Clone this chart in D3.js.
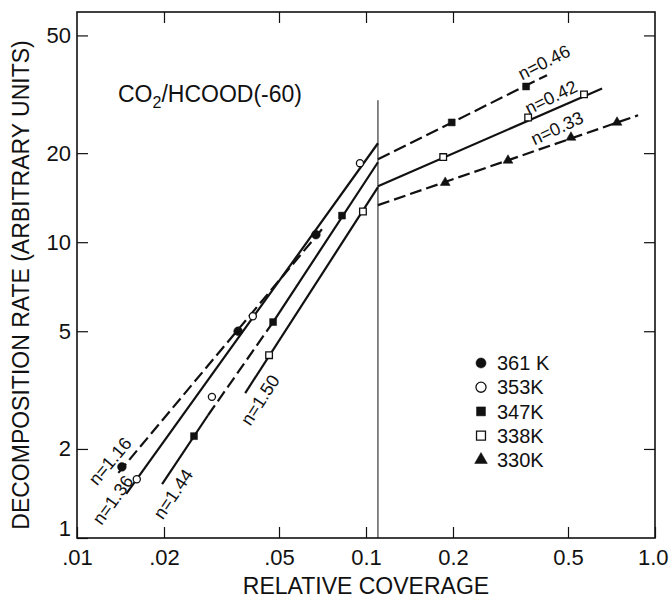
<!DOCTYPE html>
<html>
<head>
<meta charset="utf-8">
<script src="https://cdn.jsdelivr.net/npm/d3@7"></script>
<style>
  body { margin: 0; background: #fff; }
  text { font-family: "Liberation Sans", Arial, sans-serif; fill: #111; }
</style>
</head>
<body>
<svg id="chart" width="669" height="598"></svg>
<script>
// axis ticks
const xTicks = [0.01, 0.02, 0.05, 0.1, 0.2, 0.5, 1.0];
const xTickLabels = ['.01', '.02', '.05', '0.1', '0.2', '0.5', '1.0'];
const yTicks = [1, 2, 5, 10, 20, 50];
const yTickLabels = ['1', '2', '5', '10', '20', '50'];

// legend
const temps = ['361 K', '353K', '347K', '338K', '330K'];
const markers = ['circleF', 'circleO', 'squareF', 'squareO', 'triangleF'];

// measured points [coverage, rate]
const pts361 = [[0.0143, 1.74], [0.0361, 5.0], [0.0671, 10.6]];
const pts353 = [[0.0161, 1.58], [0.0293, 3.0], [0.0406, 5.62], [0.0953, 18.5]];
const pts347 = [[0.0254, 2.21], [0.0477, 5.37], [0.0826, 12.3], [0.198, 25.4], [0.358, 33.6]];
const pts338 = [[0.0462, 4.15], [0.0976, 12.7], [0.185, 19.4], [0.364, 26.4], [0.568, 31.6]];
const pts330 = [[0.188, 15.9], [0.31, 18.9], [0.512, 22.6], [0.739, 25.4]];

// fitted lines, end points [coverage, rate]
const fit116 = [[0.0139, 1.66], [0.0704, 11.06]];
const fit136 = [[0.0148, 1.41], [0.11, 21.6]];
const fit144a = [[0.0197, 1.52], [0.0284, 2.6]];
const fit144b = [[0.0284, 2.6], [0.0477, 5.37]];
const fit144c = [[0.0477, 5.37], [0.11, 18.63]];
const fit150 = [[0.0382, 3.09], [0.11, 15.34]];
const fit046 = [[0.11, 19.07], [0.423, 36.7]];
const fit042 = [[0.11, 15.46], [0.656, 33.1]];
const fit033 = [[0.11, 13.34], [0.874, 26.85]];
const breakLine = [[0.11, 1], [0.11, 30.2]];

// slope labels [coverage, rate, text, angle]
const slopeLabels = [
  [0.0130, 1.82, 'n=1.16', -50],
  [0.0133, 1.345, 'n=1.36', -54],
  [0.0215, 1.41, 'n=1.44', -56],
  [0.0430, 2.93, 'n=1.50', -57],
  [0.413, 40.6, 'n=0.46', -27],
  [0.4365, 30.9, 'n=0.42', -26],
  [0.458, 24.3, 'n=0.33', -25]
];

const svg = d3.select('#chart');
const x = d3.scaleLog().domain([0.01, 1]).range([77, 655]);
const y = d3.scaleLog().domain([1, 60]).range([538, 12]);
const line = d3.line().x(d => x(d[0])).y(d => y(d[1]));

// axes, ticks pointing inwards
svg.append('g')
    .attr('transform', `translate(0,${y(1)})`)
    .call(d3.axisBottom(x).tickValues(xTicks).tickFormat((d, i) => xTickLabels[i])
        .tickSizeInner(-11).tickSizeOuter(0).tickPadding(11))
    .call(g => g.select('.domain').remove())
    .selectAll('text').style('font-size', '22px')
    .attr('text-anchor', d => d === 1 ? 'end' : 'middle')
    .attr('x', d => d === 1 ? 13 : 0);

svg.append('g')
    .attr('transform', `translate(0,${y(60)})`)
    .call(d3.axisTop(x).tickValues(xTicks.slice(1, -1)).tickFormat('')
        .tickSizeInner(-11).tickSizeOuter(0))
    .call(g => g.select('.domain').remove());

svg.append('g')
    .attr('transform', `translate(${x(0.01)},0)`)
    .call(d3.axisLeft(y).tickValues(yTicks).tickFormat((d, i) => yTickLabels[i])
        .tickSizeInner(-11).tickSizeOuter(0).tickPadding(6))
    .call(g => g.select('.domain').remove())
    .selectAll('text').style('font-size', '22px')
    .attr('dy', d => d === 1 ? '-0.1em' : '0.32em');

svg.append('g')
    .attr('transform', `translate(${x(1)},0)`)
    .call(d3.axisRight(y).tickValues(yTicks.slice(1)).tickFormat('')
        .tickSizeInner(-11).tickSizeOuter(0))
    .call(g => g.select('.domain').remove());

svg.selectAll('.tick line').attr('stroke', '#111').attr('stroke-width', 1.2);

svg.append('rect')
    .attr('x', x(0.01)).attr('y', y(60))
    .attr('width', x(1) - x(0.01)).attr('height', y(1) - y(60))
    .attr('fill', 'none').attr('stroke', '#111').attr('stroke-width', 1.6);

// axis titles
svg.append('text')
    .attr('x', x(0.1)).attr('y', 594)
    .attr('text-anchor', 'middle').style('font-size', '23px')
    .text('RELATIVE COVERAGE');

svg.append('text')
    .attr('transform', `translate(29,${(y(1) + y(60)) / 2 + 10}) rotate(-90)`)
    .attr('text-anchor', 'middle').style('font-size', '23px')
    .text('DECOMPOSITION RATE (ARBITRARY UNITS)');

// sample label
const title = svg.append('text')
    .attr('x', 118).attr('y', 102).style('font-size', '23px');
title.append('tspan').text('CO');
title.append('tspan').attr('dy', 6).style('font-size', '16px').text('2');
title.append('tspan').attr('dy', -6).text('/HCOOD(-60)');

// vertical break line
svg.append('path').attr('d', line(breakLine))
    .attr('stroke', '#111').attr('stroke-width', 1).attr('fill', 'none');

// fit lines
const fits = [
  { d: fit116, dash: '12,5' },
  { d: fit136, dash: null },
  { d: fit144a, dash: null },
  { d: fit144b, dash: '12,5' },
  { d: fit144c, dash: null },
  { d: fit150, dash: null },
  { d: fit046, dash: '13,5' },
  { d: fit042, dash: null },
  { d: fit033, dash: '12,5' }
];
svg.selectAll('.fit').data(fits).enter().append('path')
    .attr('class', 'fit')
    .attr('d', f => line(f.d))
    .attr('fill', 'none').attr('stroke', '#111').attr('stroke-width', 2.2)
    .attr('stroke-dasharray', f => f.dash);

// markers
function drawMarker(g, type, size) {
  const shape = type.startsWith('circle') ? d3.symbolCircle
      : type.startsWith('square') ? d3.symbolSquare : d3.symbolTriangle;
  const open = type.endsWith('O');
  g.append('path')
      .attr('d', d3.symbol().type(shape).size(size)())
      .attr('fill', open ? '#fff' : '#111')
      .attr('stroke', '#111').attr('stroke-width', open ? 1.3 : 0.5);
}

const series = [pts361, pts353, pts347, pts338, pts330];
const sizes = [60, 40, 48, 44, 42];
series.forEach((pts, i) => {
  pts.forEach(p => {
    const g = svg.append('g').attr('transform', `translate(${x(p[0])},${y(p[1])})`);
    drawMarker(g, markers[i], sizes[i]);
  });
});

// slope labels
svg.selectAll('.slope').data(slopeLabels).enter().append('text')
    .attr('class', 'slope')
    .attr('transform', d => `translate(${x(d[0])},${y(d[1])}) rotate(${d[3]})`)
    .attr('text-anchor', 'middle').attr('dy', '0.35em')
    .style('font-size', '18px')
    .text(d => d[2]);

// legend
const legend = svg.append('g').attr('transform', 'translate(481,363)');
temps.forEach((t, i) => {
  const row = legend.append('g').attr('transform', `translate(0,${i * 24.2})`);
  drawMarker(row, markers[i], i === 4 ? 70 : 80);
  row.append('text').attr('x', 16).attr('dy', '0.36em')
      .style('font-size', '20px').text(t);
});
</script>
</body>
</html>
